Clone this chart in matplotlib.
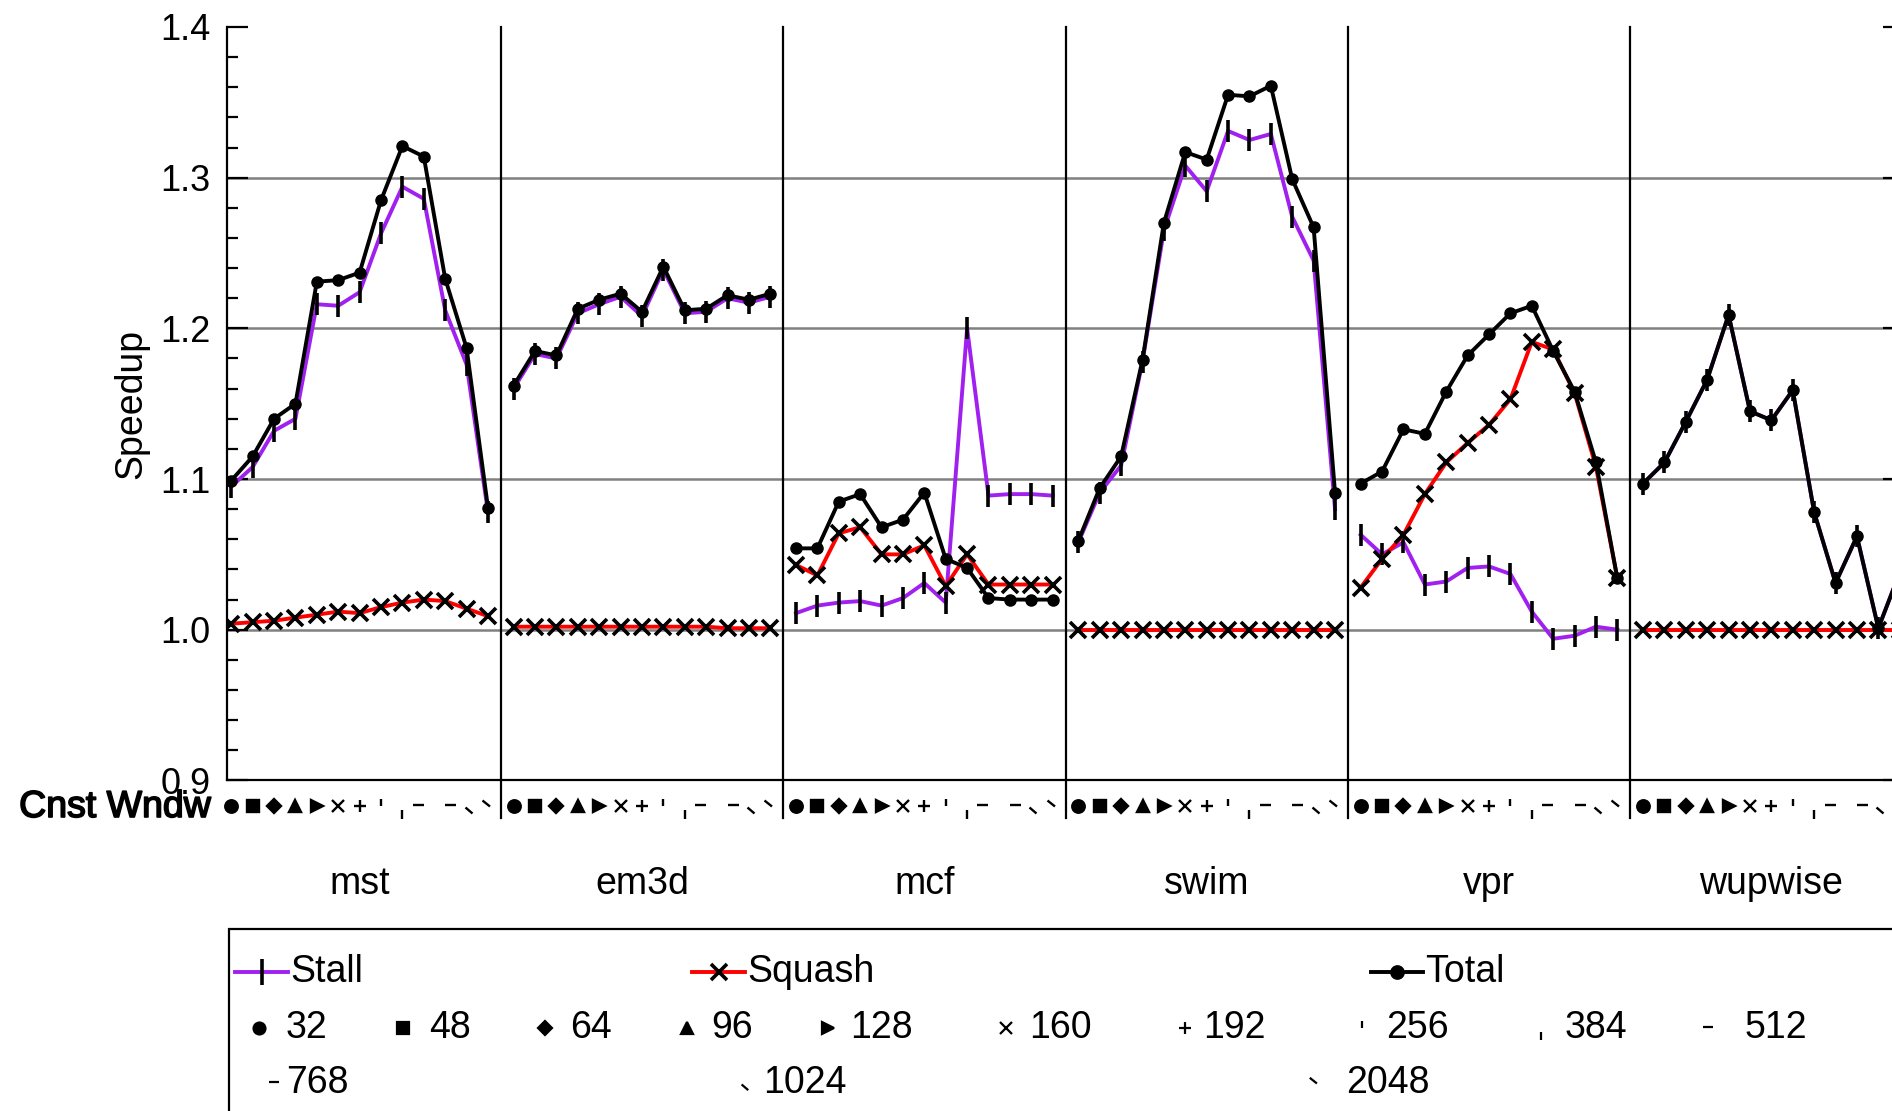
import matplotlib
matplotlib.use("Agg")
import matplotlib.pyplot as plt
import matplotlib.patheffects as pe
from matplotlib.lines import Line2D
from matplotlib.patches import Rectangle
from matplotlib.path import Path
from matplotlib.ticker import MultipleLocator, FormatStrFormatter
import matplotlib.transforms as mtransforms

plt.rcParams["font.family"] = ["Liberation Sans", "DejaVu Sans"]

benchmarks = ["mst", "em3d", "mcf", "swim", "vpr", "wupwise"]
windows = ["32", "48", "64", "96", "128", "160", "192", "256", "384", "512", "768", "1024", "2048"]

mst_stall = [1.095, 1.108, 1.132, 1.140, 1.216, 1.215, 1.224, 1.263, 1.294, 1.286, 1.212, 1.176, 1.078]
mst_squash = [1.004, 1.005, 1.006, 1.008, 1.010, 1.012, 1.011, 1.015, 1.018, 1.020, 1.019, 1.014, 1.009]
mst_total = [1.099, 1.115, 1.140, 1.150, 1.231, 1.232, 1.237, 1.285, 1.321, 1.314, 1.233, 1.187, 1.081]

em3d_stall = [1.160, 1.183, 1.180, 1.210, 1.216, 1.221, 1.208, 1.239, 1.210, 1.211, 1.220, 1.217, 1.221]
em3d_squash = [1.002, 1.002, 1.002, 1.002, 1.002, 1.002, 1.002, 1.002, 1.002, 1.002, 1.001, 1.001, 1.001]
em3d_total = [1.162, 1.185, 1.182, 1.213, 1.219, 1.223, 1.211, 1.241, 1.212, 1.213, 1.222, 1.219, 1.223]

mcf_stall = [1.011, 1.016, 1.018, 1.019, 1.016, 1.021, 1.031, 1.018, 1.200, 1.089, 1.090, 1.090, 1.089]
mcf_squash = [1.043, 1.036, 1.064, 1.068, 1.050, 1.050, 1.056, 1.029, 1.050, 1.030, 1.030, 1.030, 1.030]
mcf_total = [1.054, 1.054, 1.085, 1.090, 1.068, 1.073, 1.091, 1.047, 1.041, 1.021, 1.020, 1.020, 1.020]

swim_stall = [1.058, 1.091, 1.109, 1.178, 1.265, 1.308, 1.291, 1.331, 1.325, 1.329, 1.274, 1.245, 1.080]
swim_squash = [1.0, 1.0, 1.0, 1.0, 1.0, 1.0, 1.0, 1.0, 1.0, 1.0, 1.0, 1.0, 1.0]
swim_total = [1.059, 1.094, 1.115, 1.179, 1.270, 1.317, 1.312, 1.355, 1.354, 1.361, 1.299, 1.267, 1.091]

vpr_stall = [1.063, 1.050, 1.058, 1.030, 1.032, 1.041, 1.042, 1.037, 1.012, 0.994, 0.996, 1.002, 1.000]
vpr_squash = [1.028, 1.047, 1.063, 1.090, 1.111, 1.124, 1.136, 1.153, 1.191, 1.186, 1.157, 1.108, 1.034]
vpr_total = [1.097, 1.105, 1.133, 1.130, 1.158, 1.182, 1.196, 1.210, 1.215, 1.185, 1.158, 1.111, 1.034]

wupwise_stall = [1.097, 1.111, 1.138, 1.166, 1.209, 1.145, 1.139, 1.159, 1.078, 1.031, 1.062, 1.001, 1.038]
wupwise_squash = [1.0, 1.0, 1.0, 1.0, 1.0, 1.0, 1.0, 1.0, 1.0, 1.0, 1.0, 1.0, 1.0]
wupwise_total = [1.097, 1.111, 1.138, 1.166, 1.209, 1.145, 1.139, 1.159, 1.078, 1.031, 1.062, 1.001, 1.038]

stall = [mst_stall, em3d_stall, mcf_stall, swim_stall, vpr_stall, wupwise_stall]
squash = [mst_squash, em3d_squash, mcf_squash, swim_squash, vpr_squash, wupwise_squash]
total = [mst_total, em3d_total, mcf_total, swim_total, vpr_total, wupwise_total]

PURPLE = "#a020f0"
RED = "#ff0000"
W_PX, H_PX, DPI = 1892, 1111, 100


def fx(x):
    return x / W_PX


def fy(y):
    return 1 - y / H_PX


def seg_marker(x0, y0, x1, y1):
    # short stroke marker, given in pixels relative to the point (y up)
    m = max(abs(x0), abs(y0), abs(x1), abs(y1))
    path = Path([(x0, y0), (x1, y1)], [Path.MOVETO, Path.LINETO])
    return path, 2 * m * 72 / DPI


# window-size symbols: (marker, size in pt, filled)
sym = [("o", 9, True), ("s", 8.5, True), ("D", 7, True), ("^", 9, True),
       (">", 8.5, True), ("x", 8.5, False), ("+", 9, False)]
for seg in [(0, 0.5, 0, 7), (0, -4, 0, -13), (-11, 1, 0, 1), (0, 1, 11, 1),
            (-2, -1, 5, -7), (-6, 6, 1.5, 0)]:
    p, s = seg_marker(*seg)
    sym.append((p, s, False))

fig = plt.figure(figsize=(W_PX / DPI, H_PX / DPI), dpi=DPI)
ax = fig.add_axes([fx(227), fy(780.4), (1904 - 227) / W_PX, (780.4 - 27) / H_PX])

pad = 0.6
panel = 12 + 2 * pad
n = len(windows)
trans = mtransforms.blended_transform_factory(ax.transData, ax.transAxes)

for k, name in enumerate(benchmarks):
    xs = [k * panel + pad + i for i in range(n)]
    ax.plot(xs, stall[k], color=PURPLE, lw=2.8, marker="|", ms=16,
            mec="black", mew=2.6, zorder=3)
    ax.plot(xs, squash[k], color=RED, lw=2.8, marker="x", ms=11,
            mec="black", mew=2.6, zorder=4)
    ax.plot(xs, total[k], color="black", lw=2.8, marker="o", ms=8,
            mec="black", mfc="black", zorder=5)
    if k > 0:
        ax.axvline(k * panel, ymin=-0.05, ymax=1, color="black", lw=1.6,
                   clip_on=False, zorder=6)
    # window-size symbol row under the axis
    for i, (mk, s, filled) in enumerate(sym):
        ax.plot([xs[i]], [-0.034], transform=trans, marker=mk, ms=s,
                color="black", mew=1.7, mfc="black" if filled else "none",
                clip_on=False, linestyle="none")
    ax.text(k * panel + panel / 2, -0.1375, name, transform=trans,
            ha="center", va="center", fontsize=27)

for g in [1.0, 1.1, 1.2, 1.3]:
    ax.axhline(g, color="#808080", lw=1.8, zorder=1)

ax.set_xlim(0.4, 6 * panel - 0.4)
ax.set_ylim(0.9, 1.4)
ax.yaxis.set_major_locator(MultipleLocator(0.1))
ax.yaxis.set_minor_locator(MultipleLocator(0.02))
ax.yaxis.set_major_formatter(FormatStrFormatter("%.1f"))
ax.tick_params(axis="y", which="both", direction="in", left=True, right=True,
               width=1.6, labelsize=26, pad=12)
ax.tick_params(axis="y", which="major", length=15)
ax.tick_params(axis="y", which="minor", length=8)
ax.tick_params(axis="x", which="both", bottom=False, labelbottom=False)
ax.spines["top"].set_visible(False)
for side in ["left", "bottom", "right"]:
    ax.spines[side].set_linewidth(1.6)
ax.set_ylabel("Speedup", fontsize=27, labelpad=8)

fig.text(fx(211), fy(807), "Cnst Wndw", ha="right", va="center", fontsize=27,
         path_effects=[pe.withStroke(linewidth=1.2, foreground="black")])

# legend box
fig.add_artist(Rectangle((fx(229), fy(1200)), fx(1800), fy(929) - fy(1200),
                         transform=fig.transFigure, fill=False, lw=1.6,
                         edgecolor="black"))

series_leg = [("Stall", PURPLE, "|", 19, 235, 288),
              ("Squash", RED, "x", 11, 692, 745),
              ("Total", "black", "o", 8, 1371, 1423)]
for label, col, mk, s, x0, x1 in series_leg:
    fig.add_artist(Line2D([fx(x0), fx(x1)], [fy(972), fy(972)], color=col, lw=2.8,
                          transform=fig.transFigure))
    fig.add_artist(Line2D([fx((x0 + x1) / 2)], [fy(972)], marker=mk, ms=s,
                          color="black", mew=2.6, transform=fig.transFigure))
    fig.text(fx(x1 + 2), fy(972), label, ha="left", va="center", fontsize=27)

leg_mark_x = [259, 403, 545, 687, 828, 1006, 1185, 1362, 1541, 1713, 269, 743, 1315]
leg_text_x = [286, 429, 570, 711, 850, 1029, 1203, 1386, 1565, 1745, 286, 763, 1346]
leg_y = [1028] * 10 + [1083] * 3
for i, w in enumerate(windows):
    mk, s, filled = sym[i]
    fig.add_artist(Line2D([fx(leg_mark_x[i])], [fy(leg_y[i])], marker=mk, ms=s * 0.95,
                          color="black", mew=1.6, mfc="black" if filled else "none",
                          linestyle="none", transform=fig.transFigure))
    fig.text(fx(leg_text_x[i]), fy(leg_y[i]), w, ha="left", va="center", fontsize=27)

fig.savefig("out.png", dpi=DPI)
